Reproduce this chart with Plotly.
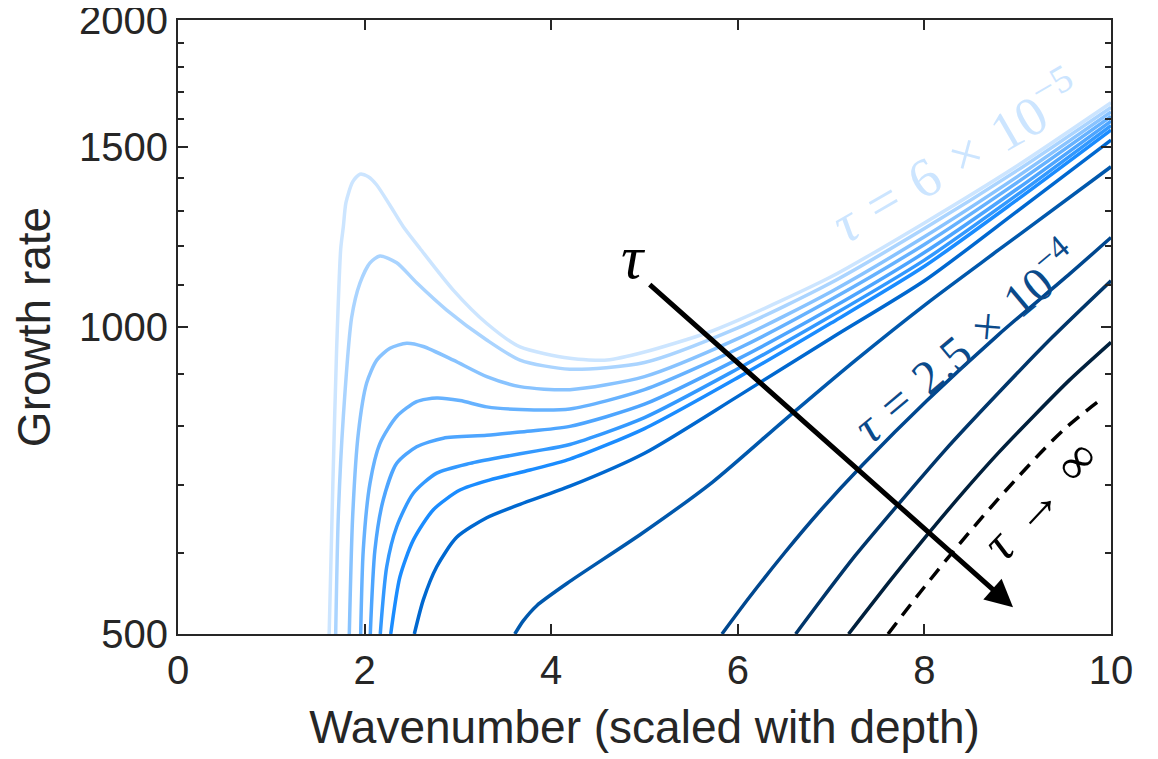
import numpy as np
import plotly.graph_objects as go

# ---- data ----
k_c1 = [1.62, 1.66, 1.70, 1.744, 1.772, 1.80, 1.872, 1.95, 2.04, 2.13, 2.27, 2.415, 2.594, 2.95, 3.31, 3.666, 4.2, 4.6, 5.0, 5.66, 6, 7, 8, 9, 10]
g_c1 = [500, 703, 950, 1193, 1254, 1324, 1388, 1412, 1404, 1378, 1317, 1254, 1194, 1087, 1008, 956, 932, 928, 945, 986, 1015, 1120, 1265, 1440, 1659]

k_c2 = [1.69, 1.718, 1.772, 1.862, 1.951, 2.058, 2.165, 2.344, 2.558, 2.88, 3.309, 3.666, 4.2, 5, 6, 7, 8, 9, 10]
g_c2 = [500, 652, 817, 1023, 1105, 1156, 1174, 1156, 1105, 1039, 971, 928, 909, 923, 998, 1105, 1249, 1425, 1642]

k_c3 = [1.836, 1.872, 1.933, 2.022, 2.13, 2.272, 2.451, 2.629, 2.951, 3.309, 3.666, 4.2, 5, 6, 7, 8, 9, 10]
g_c3 = [500, 652, 787, 881, 928, 953, 964, 957, 928, 894, 874, 868, 894, 974, 1083, 1226, 1405, 1625]

k_c4 = [1.958, 1.986, 2.058, 2.165, 2.344, 2.558, 2.773, 3.022, 3.309, 3.666, 4.2, 5, 6, 7, 8, 9, 10]
g_c4 = [500, 605, 703, 769, 817, 845, 852, 847, 835, 830, 831, 868, 952, 1064, 1205, 1387, 1609]

k_c5 = [2.061, 2.111, 2.2, 2.344, 2.558, 2.844, 3.309, 3.666, 4.2, 5, 6, 7, 8, 9, 10]
g_c5 = [500, 605, 677, 735, 763, 778, 783, 789, 799, 840, 930, 1043, 1183, 1367, 1592]

k_c6 = [2.168, 2.237, 2.344, 2.522, 2.773, 3.13, 3.487, 3.845, 4.2, 5, 6, 7, 8, 9, 10]
g_c6 = [500, 582, 637, 687, 719, 735, 746, 756, 767, 815, 910, 1025, 1163, 1349, 1576]

k_c7 = [2.28, 2.379, 2.522, 2.737, 3.022, 3.344, 3.773, 4.2, 5, 6, 7, 8, 9, 10]
g_c7 = [500, 569, 618, 662, 692, 708, 724, 742, 795, 892, 1009, 1147, 1334, 1560]

k_c8 = [2.533, 2.629, 2.773, 2.987, 3.309, 3.666, 4.2, 5, 6, 7, 8, 9, 10]
g_c8 = [500, 540, 582, 622, 650, 670, 698, 752, 855, 975, 1110, 1300, 1525]

k_c9 = [3.61, 3.7, 3.845, 4.2, 4.967, 5.733, 6.498, 7.264, 8.028, 8.795, 10]
g_c9 = [500, 515, 533, 563, 627, 705, 810, 928, 1055, 1190, 1436]

k_c10 = [5.83, 6.116, 6.498, 6.881, 7.341, 8.028, 8.795, 9.56, 10]
g_c10 = [500, 542, 600, 660, 733, 847, 983, 1128, 1224]

k_c11 = [6.62, 6.88, 7.26, 7.72, 8.22, 8.795, 9.37, 10]
g_c11 = [500, 538, 597, 670, 757, 862, 977, 1110]

k_c12 = [7.187, 7.646, 8.028, 8.413, 8.795, 9.178, 9.56, 10]
g_c12 = [500, 566, 625, 688, 753, 819, 888, 966]

k_inf = [7.61, 8.0, 8.5, 9.0, 9.5, 9.9]
g_inf = [500, 556, 632, 712, 794, 850]

curve_k = [k_c1, k_c2, k_c3, k_c4, k_c5, k_c6, k_c7, k_c8, k_c9, k_c10, k_c11, k_c12]
curve_g = [g_c1, g_c2, g_c3, g_c4, g_c5, g_c6, g_c7, g_c8, g_c9, g_c10, g_c11, g_c12]
curve_colors = ["#cce5ff", "#aad4ff", "#88c3ff", "#66b2ff", "#4da5ff", "#3399ff",
                "#1a8cff", "#0068d0", "#0058ad", "#00478f", "#00366b", "#00203d"]

x_ticks = [0, 2, 4, 6, 8, 10]
y_ticks = [500, 1000, 1500, 2000]
y_minor = [600, 700, 800, 900, 1100, 1200, 1300, 1400, 1600, 1700, 1800, 1900]

AX = "#262626"
SANS = "Liberation Sans"
SERIF = "Liberation Serif"
SP = "\u2004"

fig = go.Figure()
for kk, gg, col in zip(curve_k, curve_g, curve_colors):
    fig.add_trace(go.Scatter(x=kk, y=gg, mode="lines",
                             line=dict(color=col, width=3.5, shape="spline", smoothing=0.7),
                             showlegend=False, hoverinfo="skip"))
fig.add_trace(go.Scatter(x=k_inf, y=g_inf, mode="lines",
                         line=dict(color="black", width=3.5, dash="14px,9px", shape="spline"),
                         showlegend=False, hoverinfo="skip"))

ann = []
ann.append(dict(x=8.33, y=np.log10(1474), text=f"<i>τ</i>{SP}={SP}6{SP}×{SP}10<sup>−5</sup>",
                textangle=-30, font=dict(family=SERIF, size=55, color="#cce5ff"), showarrow=False))
ann.append(dict(x=8.435, y=np.log10(971), text=f"<i>τ</i>{SP}={SP}2.5{SP}×{SP}10<sup>−4</sup>",
                textangle=-40, font=dict(family=SERIF, size=48, color="#0b4a8a"), showarrow=False))
ann.append(dict(x=9.24, y=np.log10(677), text=f"<i>τ</i>{SP}→{SP}∞",
                textangle=-47, font=dict(family=SERIF, size=52, color="black"), showarrow=False))
ann.append(dict(x=4.887, y=np.log10(1172), text="<i>τ</i>",
                font=dict(family=SERIF, size=62, color="black"), showarrow=False))
ann.append(dict(x=8.95, y=np.log10(531), ax=5.04, ay=np.log10(1104), axref="x", ayref="y",
                xref="x", yref="y", text="", showarrow=True, arrowhead=2, arrowsize=1.1,
                arrowwidth=5, arrowcolor="black"))

eps = 1e-6
# page body has an 8px default margin, so the figure is 8px smaller than the window
fig.update_layout(
    width=1150, height=751,
    margin=dict(l=170, r=47, t=12, b=125, autoexpand=False),
    paper_bgcolor="white", plot_bgcolor="white",
    annotations=ann,
    xaxis=dict(range=[0, 10], tickvals=x_ticks, ticktext=[str(v) for v in x_ticks],
               ticks="inside", ticklen=10, tickwidth=2, tickcolor=AX,
               showline=True, linecolor=AX, linewidth=2, mirror="ticks",
               showgrid=False, zeroline=False, automargin=False,
               ticklabeloverflow="allow",
               tickfont=dict(family=SANS, size=40, color=AX),
               title=dict(text="Wavenumber (scaled with depth)", standoff=20,
                          font=dict(family=SANS, size=46, color=AX))),
    yaxis=dict(type="log", range=[np.log10(500) - eps, np.log10(2000) + eps],
               tickvals=y_ticks, ticktext=[str(v) for v in y_ticks],
               ticks="inside", ticklen=10, tickwidth=2, tickcolor=AX,
               minor=dict(tickvals=y_minor, ticks="inside", ticklen=6, tickwidth=2, tickcolor=AX),
               showline=True, linecolor=AX, linewidth=2, mirror="ticks",
               showgrid=False, zeroline=False, automargin=False,
               ticklabeloverflow="allow",
               tickfont=dict(family=SANS, size=40, color=AX),
               title=dict(text="Growth rate", standoff=20,
                          font=dict(family=SANS, size=46, color=AX))),
)
fig.write_html("out.html")
